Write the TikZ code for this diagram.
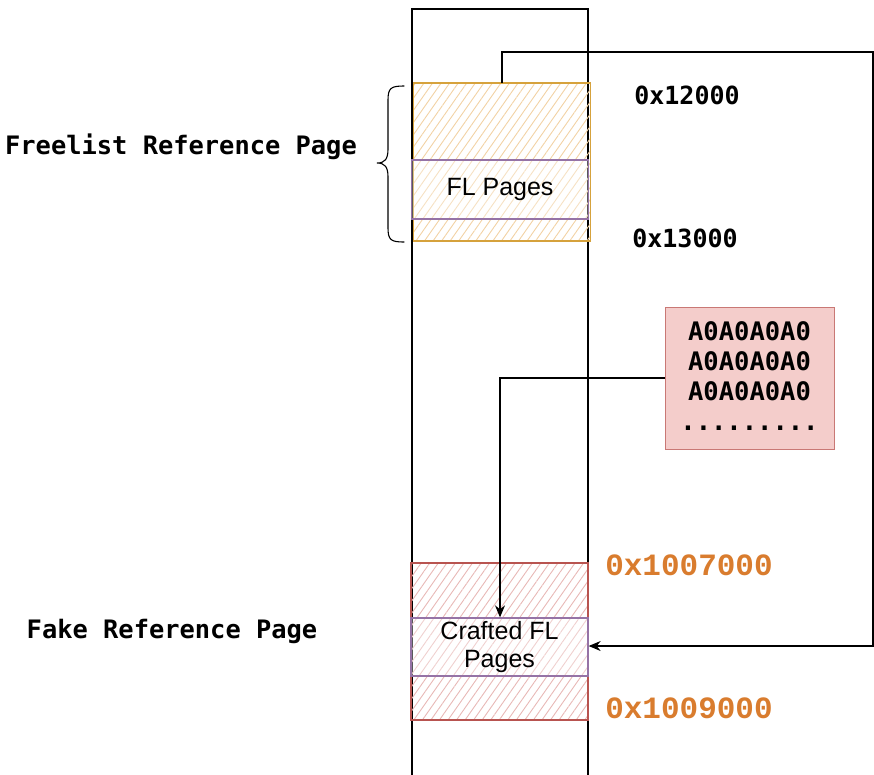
\documentclass[tikz,border=0pt]{standalone}
\usepackage{fontspec}
\setmainfont{Liberation Sans}
\newfontfamily\labelmono{DejaVu Sans Mono}
\newfontfamily\addrmono{Liberation Mono}
\usetikzlibrary{patterns.meta,arrows.meta}

\definecolor{pgorange}{HTML}{D6A23C}
\definecolor{pghatch}{HTML}{F2D2A4}
\definecolor{flpurple}{HTML}{9673A6}
\definecolor{fkred}{HTML}{B85450}
\definecolor{fkhatch}{HTML}{E8B8B6}
\definecolor{datafill}{HTML}{F4CDCB}
\definecolor{dataline}{HTML}{C97875}
\definecolor{addrorange}{HTML}{D97C2E}

\tikzset{
  pagebox/.style={draw=pgorange, line width=1.3pt, minimum width=177pt, inner sep=0pt,
    pattern={Lines[angle=55,distance=7pt,line width=0.9pt]}, pattern color=pghatch},
  fakebox/.style={draw=fkred, line width=1.3pt, minimum width=177pt, inner sep=0pt,
    pattern={Lines[angle=55,distance=7pt,line width=0.9pt]}, pattern color=fkhatch},
  flbox/.style={draw=flpurple, line width=1.3pt, minimum width=177pt, align=center,
    inner sep=0pt, font=\fontsize{25}{29}\selectfont, fill=white, fill opacity=0.35,
    text opacity=1},
  sidelabel/.style={font=\labelmono\bfseries\fontsize{25.4}{30}\selectfont, inner sep=0pt},
  addrblack/.style={font=\labelmono\bfseries\fontsize{25}{30}\selectfont, inner sep=0pt},
  addrcolor/.style={font=\addrmono\bfseries\fontsize{31}{36}\selectfont, text=addrorange, inner sep=0pt},
  databox/.style={draw=dataline, line width=1pt, fill=datafill, minimum width=169pt,
    minimum height=142pt, inner sep=0pt},
  datatext/.style={font=\labelmono\bfseries\fontsize{25.5}{30}\selectfont, align=center,
    inner sep=0pt},
  link/.style={line width=1.1pt, draw=black},
  tip/.style={-{Stealth[length=12pt,width=10pt]}},
}

\begin{document}
\begin{tikzpicture}[x=1pt,y=-1pt]
  \useasboundingbox (0,0) rectangle (874,774);

  % memory column
  \coordinate (colBL) at (412,776);
  \coordinate (colTL) at (412,9);
  \coordinate (colTR) at (588,9);
  \coordinate (colBR) at (588,776);
  \draw[line width=1.3pt] (colBL) -- (colTL) -- (colTR) -- (colBR);

  % freelist reference page
  \node[pagebox, minimum height=158pt] (frp) at (502,162) {};
  \node[flbox, minimum height=59pt] (flp) at (500,189.5) {FL Pages};

  % fake reference page
  \node[fakebox, minimum height=157pt] (fkp) at (499.5,641.5) {};
  \node[flbox, minimum height=58pt] (cfl) at (499.5,647) {Crafted FL\\[-1pt]Pages};

  % sprayed data
  \node[databox] (spray) at (749.5,378) {};
  \node[datatext] (spraytext) at (749.5,361) {A0A0A0A0\\A0A0A0A0\\A0A0A0A0};
  \node[datatext] (spraydots) at (749.5,428) {.........};

  % brace around the freelist page
  \coordinate (brT) at (404,86);
  \coordinate (brB) at (404,242);
  \draw[line width=1.1pt, line cap=round]
    (brT) .. controls (391,86) and (388,88) .. (388,100) -- (388,149)
    .. controls (388,159) and (385,163) .. (377,163)
    .. controls (385,163) and (388,167) .. (388,177) -- (388,228)
    .. controls (388,240) and (391,242) .. (brB);

  % labels
  \node[sidelabel] (lblfree) at (181,147) {Freelist Reference Page};
  \node[sidelabel] (lblfake) at (172,631) {Fake Reference Page};
  \node[addrblack] (a12) at (687,95) {0x12000};
  \node[addrblack] (a13) at (685,238) {0x13000};
  \node[addrcolor] (a1007) at (689,565) {0x1007000};
  \node[addrcolor] (a1009) at (689,708) {0x1009000};

  % connectors
  \coordinate (loopA) at (502,52);
  \coordinate (loopB) at (873,52);
  \coordinate (loopC) at (873,646);
  \draw[link, tip] (frp.north -| loopA) -- (loopA) -- (loopB) -- (loopC) -- (cfl.east |- loopC);

  \coordinate (sprayTurn) at (500,378);
  \draw[link, tip] (spray.west) -- (sprayTurn) -- (cfl.north -| sprayTurn);
\end{tikzpicture}
\end{document}
